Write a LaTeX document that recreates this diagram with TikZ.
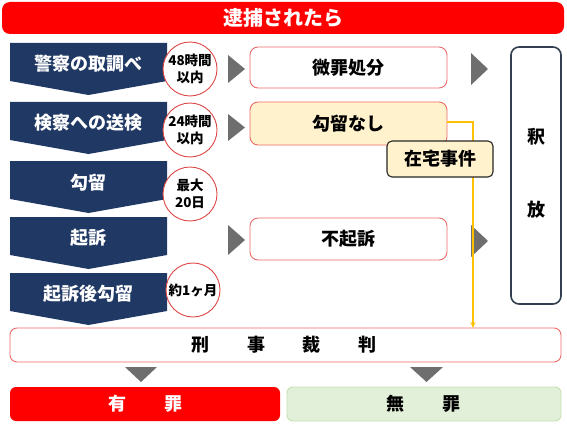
\documentclass[tikz,border=0pt]{standalone}
\usepackage{fontspec}
\setmainfont{Noto Sans CJK JP}
\usetikzlibrary{arrows.meta}
\definecolor{navy}{HTML}{1F3864}
\definecolor{bannerred}{HTML}{FF0000}
\definecolor{boxred}{HTML}{EE6A6A}
\definecolor{circred}{HTML}{E04848}
\definecolor{trigray}{HTML}{6E6E6E}
\definecolor{gold}{HTML}{FFC000}
\definecolor{lightyellow}{HTML}{FFF2CC}
\definecolor{lightgreen}{HTML}{E2F0D9}
\definecolor{greenline}{HTML}{C5E0B4}
\definecolor{slate}{HTML}{333F50}
\tikzset{
  chev/.style={fill=navy, draw=none},
  chevtext/.style={text=white, font=\fontsize{18}{21}\selectfont\bfseries, inner sep=0pt},
  timecirc/.style={circle, draw=circred, line width=0.9pt, fill=white, minimum size=54pt, inner sep=0pt, align=center, font=\fontsize{13.5}{16.5}\selectfont\bfseries},
  tri/.style={fill=trigray, draw=none},
  outbox/.style={draw=boxred, line width=0.9pt, rounded corners=8pt, minimum width=197pt, font=\fontsize{18}{21}\selectfont\bfseries, inner sep=0pt},
  bigtext/.style={font=\fontsize{18}{21}\selectfont\bfseries, inner sep=0pt},
}
\begin{document}
\begin{tikzpicture}[x=1pt,y=-1pt]
\useasboundingbox (0,0) rectangle (567,425);
% title banner
\node[fill=bannerred, rounded corners=8pt, minimum width=562pt, minimum height=32pt, inner sep=0pt,
      text=white, font=\fontsize{20}{24}\selectfont\bfseries] (title) at (283,18) {逮捕されたら};
% chevrons
\foreach \t/\name in {43/k1,102/k2,161/k3,217/k4,273/k5}{
  \fill[chev] (10,\t) -- (167,\t) -- (167,\t+38) -- (88.5,\t+52) -- (10,\t+38) -- cycle;
}
\node[chevtext] (n1) at (88.5,64) {警察の取調べ};
\node[chevtext] (n2) at (88.5,123) {検察への送検};
\node[chevtext] (n3) at (88.5,183) {勾留};
\node[chevtext] (n4) at (88.5,238) {起訴};
\node[chevtext] (n5) at (88.5,294) {起訴後勾留};
% circles
\node[timecirc] (c1) at (190,69) {48時間\\以内};
\node[timecirc] (c2) at (190,130) {24時間\\以内};
\node[timecirc] (c3) at (190,194) {最大\\20日};
\node[timecirc] (c5) at (193,290) {約1ヶ月};
% left triangles
\fill[tri] (228,55) -- (245,69) -- (228,83) -- cycle;
\fill[tri] (228,114) -- (245,127.5) -- (228,141) -- cycle;
\fill[tri] (228,225) -- (245,240) -- (228,255) -- cycle;
% right triangles
\fill[tri] (471,53) -- (488,69) -- (471,85) -- cycle;
\fill[tri] (471,225) -- (488,241) -- (471,257) -- cycle;
% outcome boxes
\node[outbox, fill=white, minimum height=41pt] (b1) at (348.5,67.5) {微罪処分};
\node[outbox, fill=lightyellow, minimum height=43pt] (b2) at (348.5,123.5) {勾留なし};
\node[outbox, fill=white, minimum height=42pt] (b3) at (348.5,239) {不起訴};
% trial box
\node[draw=boxred, line width=0.9pt, rounded corners=7pt, fill=white, minimum width=551pt, minimum height=34pt, inner sep=0pt] (trial) at (285.5,345) {};
\node[bigtext] (tt) at (284,345) {刑\hspace{38pt}事\hspace{38pt}裁\hspace{38pt}判};
% yellow connector
\coordinate (yl) at (473,328);
\draw[gold, line width=1.2pt, -{Stealth[length=6pt,width=5pt]}] (b2.east |- 0,122) -| (yl);
% zaitaku
\node[draw=black!85, line width=1.1pt, rounded corners=5pt, fill=lightyellow, minimum width=106pt, minimum height=36pt, inner sep=0pt, font=\fontsize{18}{21}\selectfont\bfseries] (zt) at (440,159) {在宅事件};
% release box
\node[draw=slate, line width=1.6pt, rounded corners=8pt, fill=white, minimum width=50pt, minimum height=257pt, inner sep=0pt] (rel) at (536,175.5) {};
\node[bigtext] (r1) at (536,137) {釈};
\node[bigtext] (r2) at (536,210) {放};
% down triangles
\fill[tri] (125,367) -- (157,367) -- (141,382) -- cycle;
\fill[tri] (410,367) -- (443,367) -- (426.5,382) -- cycle;
% verdict boxes
\node[fill=bannerred, rounded corners=6pt, minimum width=270pt, minimum height=34pt, inner sep=0pt] (guilty) at (145,404) {};
\node[bigtext, text=white] (gt) at (145,404) {有\hspace{38pt}罪};
\node[fill=lightgreen, draw=greenline, line width=0.9pt, rounded corners=6pt, minimum width=274pt, minimum height=34pt, inner sep=0pt] (ng) at (424,404) {};
\node[bigtext] (nt) at (423,404) {無\hspace{38pt}罪};
\end{tikzpicture}
\end{document}
